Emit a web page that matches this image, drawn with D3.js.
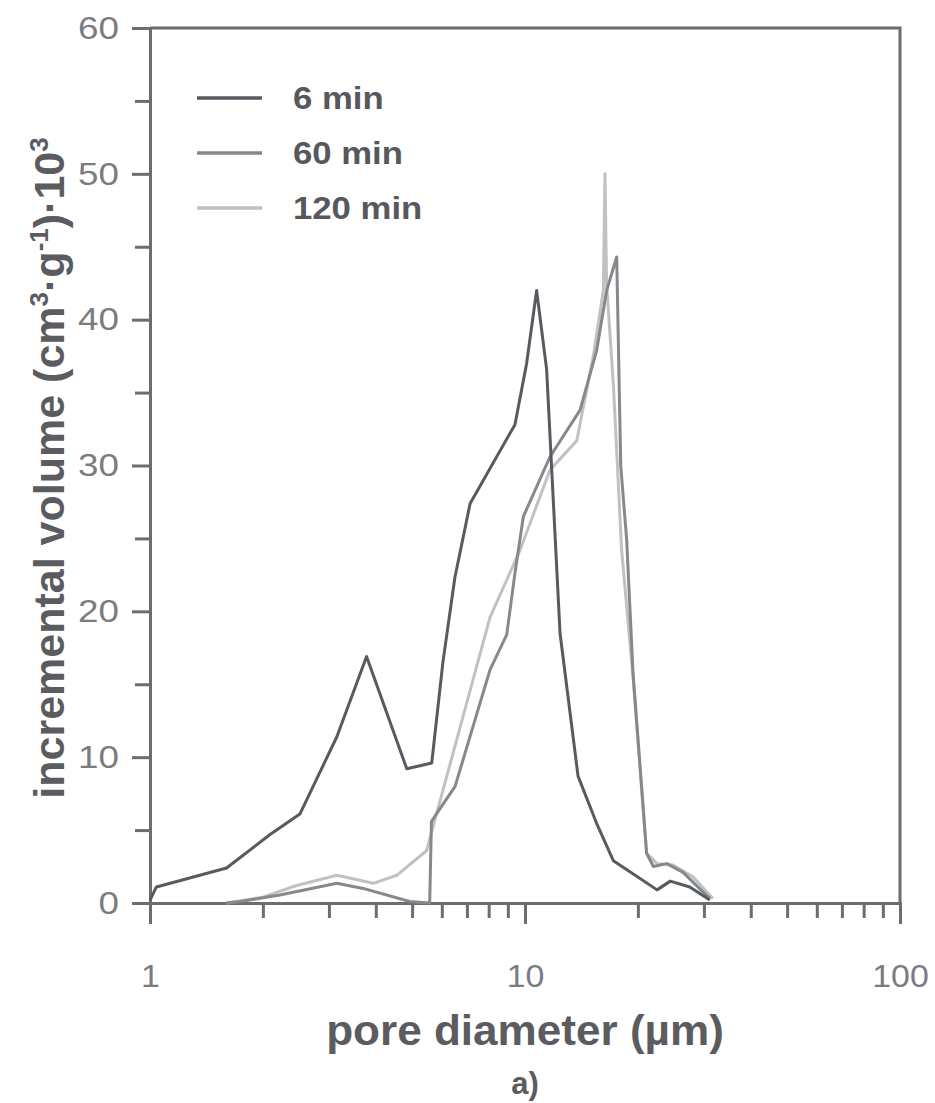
<!DOCTYPE html>
<html lang="en">
<head>
    <meta charset="UTF-8">
    <script src="https://d3js.org/d3.v7.min.js"></script>
    <title>pore size distribution</title>
    <style>
      body { margin: 0; background: #fff; }
      text { font-family: "Liberation Sans", Arial, sans-serif; }
    </style>
</head>
<body>
<div id="my_dataviz"></div>
<script>

    // pore diameter (µm) / incremental volume (cm3/g * 10^3)
    var series6 = [
      [1.0, 0.2], [1.04, 1.1], [1.6, 2.4], [2.09, 4.7], [2.51, 6.1], [3.15, 11.4],
      [3.78, 16.9], [4.84, 9.2], [5.64, 9.6], [6.04, 16.5], [6.5, 22.3], [7.14, 27.4],
      [9.4, 32.8], [10.1, 37.0], [10.74, 42.0], [11.42, 36.6], [12.4, 18.5], [13.85, 8.7],
      [15.5, 5.5], [17.2, 2.9], [19.4, 2.0], [22.5, 0.9], [24.4, 1.5], [27.5, 1.1], [31.1, 0.2]
    ]
    var series60 = [
      [1.6, 0], [1.74, 0.1], [2.22, 0.55], [3.15, 1.35], [3.7, 1.0], [4.93, 0.1], [5.57, 0],
      [5.63, 5.6], [6.51, 8.0], [8.07, 16.0], [8.94, 18.4], [9.4, 22.6], [9.9, 26.5],
      [11.66, 30.6], [14.02, 33.8], [15.53, 37.9], [16.51, 42.0], [17.56, 44.3], [18.0, 30.0],
      [18.67, 24.9], [19.41, 15.8], [21.1, 3.4], [22.0, 2.5], [23.9, 2.7], [26.4, 2.1], [31.1, 0.3]
    ]
    var series120 = [
      [1.6, 0], [2.0, 0.4], [2.46, 1.2], [3.15, 1.9], [3.94, 1.35], [4.55, 1.9], [5.47, 3.6],
      [5.75, 5.7], [8.07, 19.6], [9.7, 24.2], [11.66, 29.7], [13.74, 31.7], [15.21, 37.5],
      [16.18, 42.0], [16.34, 50.0], [16.5, 42.5], [17.2, 35.6], [18.1, 24.2], [19.41, 15.5],
      [21.1, 3.4], [22.5, 2.7], [24.8, 2.6], [28.05, 1.8], [31.7, 0.3]
    ]

    var seriesNames = ["6 min", "60 min", "120 min"]
    var allSeries = [series6, series60, series120]
    var xMajorTicks = [1, 10, 100]
    var yMajorTicks = [0, 10, 20, 30, 40, 50, 60]
    var yMinorTicks = [5, 15, 25, 35, 45, 55]

    var colors = ["#575a60", "#85888c", "#bfc1c3"]
    var axisColor = "#6b6d70"

    var width = 935, height = 1103
    var margin = {top: 28, right: 35, bottom: 200, left: 150}

    var svg = d3.select("#my_dataviz")
      .append("svg")
        .attr("width", width)
        .attr("height", height)

    var x = d3.scaleLog()
      .domain([1, 100])
      .range([margin.left, width - margin.right])

    var y = d3.scaleLinear()
      .domain([0, 60])
      .range([height - margin.bottom, margin.top])

    var y0 = y(0)

    // frame (top and right)
    svg.append("path")
      .attr("d", "M" + x(1) + "," + y(60) + "H" + x(100) + "V" + y0)
      .attr("fill", "none")
      .attr("stroke", axisColor)
      .attr("stroke-width", 3)

    // x axis: minor ticks, then major ticks with labels
    var xMinor = x.ticks().filter(function(d) { return xMajorTicks.indexOf(d) < 0 })
    svg.append("g")
      .attr("transform", "translate(0," + y0 + ")")
      .call(d3.axisBottom(x).tickValues(xMinor).tickSize(15).tickFormat(""))
    var xAxis = svg.append("g")
      .attr("transform", "translate(0," + y0 + ")")
      .call(d3.axisBottom(x).tickValues(xMajorTicks).tickSize(21).tickPadding(40)
        .tickFormat(d3.format("d")))

    // y axis: minor ticks at the 5s, majors with labels
    svg.append("g")
      .attr("transform", "translate(" + x(1) + ",0)")
      .call(d3.axisLeft(y).tickValues(yMinorTicks).tickSize(15).tickFormat(""))
    var yAxis = svg.append("g")
      .attr("transform", "translate(" + x(1) + ",0)")
      .call(d3.axisLeft(y).tickValues(yMajorTicks).tickSize(18).tickPadding(13))

    svg.selectAll(".domain, .tick line")
      .attr("stroke", axisColor)
      .attr("stroke-width", 3)
    svg.selectAll(".tick text")
      .attr("fill", "#7a7c7f")
      .style("font-size", "32px")
      .style("font-family", "Liberation Sans, Arial, sans-serif")

    // the original lettering is a bit wider than Arial
    yAxis.selectAll(".tick text").each(function() {
      var t = d3.select(this), sx = 1.15
      t.attr("x", +t.attr("x") / sx).attr("transform", "scale(" + sx + ",1)")
    })
    xAxis.selectAll(".tick text").attr("transform", "scale(1.06,1)")

    // curves, lightest first
    var line = d3.line()
      .x(function(d) { return x(d[0]) })
      .y(function(d) { return y(d[1]) })

    for (var i = allSeries.length - 1; i >= 0; i--) {
      svg.append("path")
        .datum(allSeries[i])
        .attr("d", line)
        .attr("fill", "none")
        .attr("stroke", colors[i])
        .attr("stroke-width", 3)
        .attr("stroke-linejoin", "round")
    }

    // legend
    var legend = svg.append("g")
    seriesNames.forEach(function(name, i) {
      var ly = 98 + i * 55
      legend.append("line")
        .attr("x1", 197).attr("x2", 262)
        .attr("y1", ly).attr("y2", ly)
        .attr("stroke", colors[i])
        .attr("stroke-width", 3.5)
      legend.append("text")
        .attr("transform", "translate(293," + ly + ") scale(1.12,1)")
        .attr("dy", "0.36em")
        .attr("fill", "#56585c")
        .style("font-size", "31px")
        .style("font-weight", "bold")
        .text(name)
    })

    // axis titles
    svg.append("text")
      .attr("transform", "translate(" + x(10) + ",1045) scale(1.05,1)")
      .attr("text-anchor", "middle")
      .attr("fill", "#5a5c60")
      .style("font-size", "42px")
      .style("font-weight", "bold")
      .text("pore diameter (µm)")

    var yt = svg.append("text")
      .attr("transform", "translate(64,468) rotate(-90)")
      .attr("text-anchor", "middle")
      .attr("fill", "#5a5c60")
      .style("font-size", "43px")
      .style("font-weight", "bold")
    yt.append("tspan").text("incremental volume (cm")
    yt.append("tspan").attr("dy", -16).style("font-size", "26px").text("3")
    yt.append("tspan").attr("dy", 16).text("·g")
    yt.append("tspan").attr("dy", -16).style("font-size", "26px").text("-1")
    yt.append("tspan").attr("dy", 16).text(")·10")
    yt.append("tspan").attr("dy", -16).style("font-size", "26px").text("3")

    svg.append("text")
      .attr("x", x(10)).attr("y", 1094)
      .attr("text-anchor", "middle")
      .attr("fill", "#5a5c60")
      .style("font-size", "31px")
      .style("font-weight", "bold")
      .text("a)")

</script>
</body>
</html>
